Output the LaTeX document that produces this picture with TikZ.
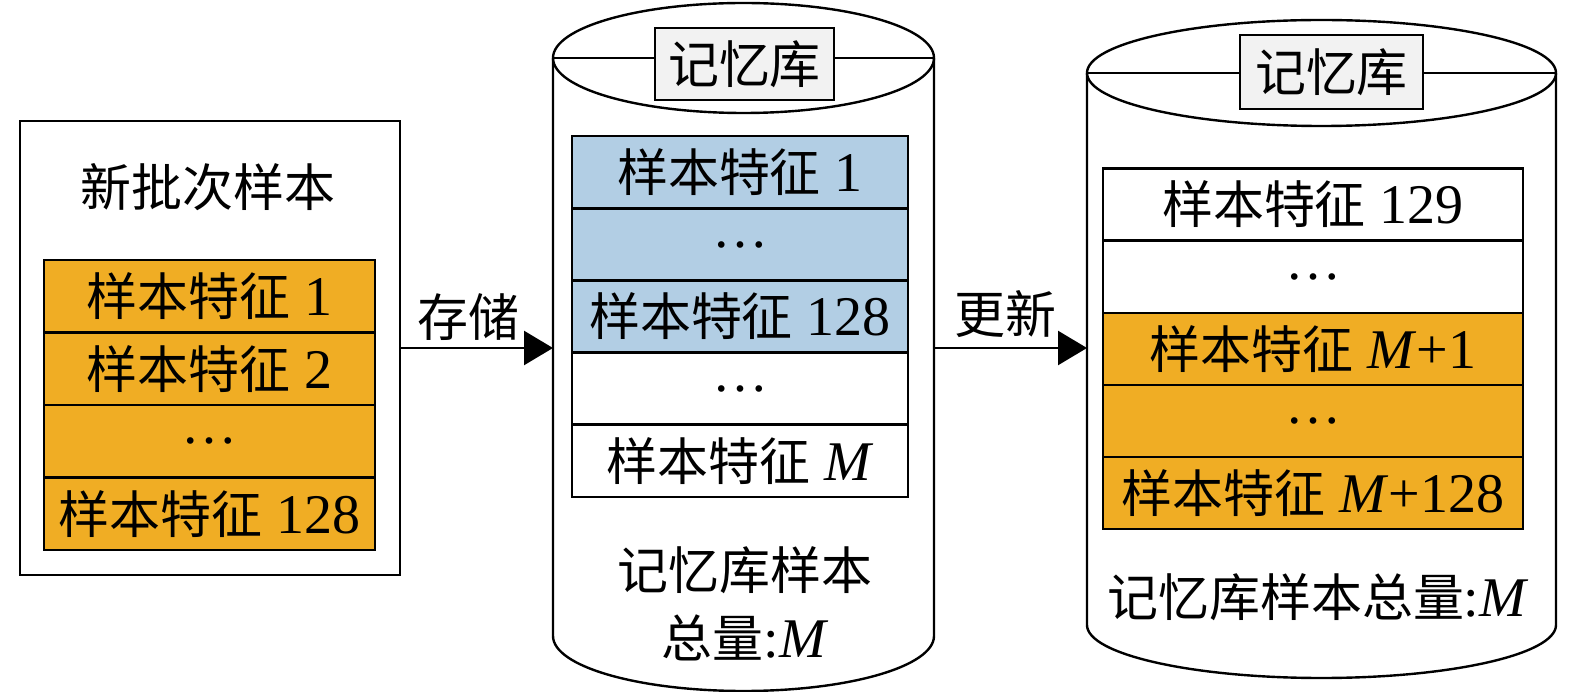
\documentclass[tikz,border=0pt]{standalone}
\usepackage{fontspec}
\setmainfont{Liberation Serif}
\newfontfamily\cnfont{Noto Sans CJK SC}[Scale=0.91]
\usetikzlibrary{arrows.meta}
\definecolor{orgc}{RGB}{240,173,36}
\definecolor{bluc}{RGB}{178,206,228}
\definecolor{lblc}{RGB}{242,242,242}
\begin{document}
\begin{tikzpicture}[x=1pt,y=1pt,line width=2.4pt,
  font=\fontsize{56}{64}\selectfont,
  box/.style={draw,line width=2.4pt,inner sep=0pt,anchor=center},
  lrow/.style={box,minimum width=331pt,minimum height=72.5pt},
  mrow/.style={box,minimum width=336pt,minimum height=72pt},
  rrow/.style={box,minimum width=420pt,minimum height=72pt},
  org/.style={fill=orgc},
  blu/.style={fill=bluc},
  wht/.style={fill=white},
  lbl/.style={box,fill=lblc},
  txt/.style={inner sep=0pt},
  cyl/.style={draw,line width=2.4pt,fill=white},
  arr/.style={line width=2.4pt,-{Triangle[length=29pt,width=34pt]}}]
\useasboundingbox (0,0) rectangle (1575,-692);

% left box
\node[box,minimum width=380pt,minimum height=454pt] (batch) at (210,-348) {};
\node[txt] (btitle) at (208,-187) {\cnfont 新批次样本};
\node[lrow,org] (l1) at (209.5,-296) {{\cnfont 样本特征} 1};
\node[lrow,org] (l2) at (209.5,-369) {{\cnfont 样本特征} 2};
\node[lrow,org] (l3) at (209.5,-441) {\ldots};
\node[lrow,org] (l4) at (209.5,-514) {{\cnfont 样本特征} 128};

% middle cylinder
\draw[cyl] (553,-58) -- (553,-636)
  arc[start angle=180,end angle=360,x radius=190.5pt,y radius=55pt]
  -- (934,-58)
  arc[start angle=0,end angle=180,x radius=190.5pt,y radius=55pt] -- cycle;
\draw (553,-58) arc[start angle=180,end angle=360,x radius=190.5pt,y radius=55pt];
\draw (553,-58) -- (934,-58);
\node[lbl,minimum width=179pt,minimum height=72pt] (mlbl) at (744.5,-64) {\cnfont 记忆库};
\node[mrow,blu] (m1) at (740,-172) {{\cnfont 样本特征} 1};
\node[mrow,blu] (m2) at (740,-244.5) {\ldots};
\node[mrow,blu] (m3) at (740,-316.5) {{\cnfont 样本特征} 128};
\node[mrow,wht] (m4) at (740,-388.5) {\ldots};
\node[mrow,wht] (m5) at (740,-461) {{\cnfont 样本特征} \textit{M}};
\node[txt] (mt1) at (745,-570) {\cnfont 记忆库样本};
\node[txt] (mt2) at (745,-638) {{\cnfont 总量}:\textit{M}};
\coordinate (mcl) at (553,-348);
\coordinate (mcr) at (934,-348);

% right cylinder
\draw[cyl] (1087,-73) -- (1087,-625)
  arc[start angle=180,end angle=360,x radius=234.5pt,y radius=53pt]
  -- (1556,-73)
  arc[start angle=0,end angle=180,x radius=234.5pt,y radius=53pt] -- cycle;
\draw (1087,-73) arc[start angle=180,end angle=360,x radius=234.5pt,y radius=53pt];
\draw (1087,-73) -- (1556,-73);
\node[lbl,minimum width=183pt,minimum height=74pt] (rlbl) at (1331.5,-72) {\cnfont 记忆库};
\node[rrow,wht] (r1) at (1313,-204.5) {{\cnfont 样本特征} 129};
\node[rrow,wht] (r2) at (1313,-277) {\ldots};
\node[rrow,org] (r3) at (1313,-349) {{\cnfont 样本特征} \textit{M}+1};
\node[rrow,org] (r4) at (1313,-421) {\ldots};
\node[rrow,org] (r5) at (1313,-493) {{\cnfont 样本特征} \textit{M}+128};
\node[txt] (rt) at (1318,-597) {{\cnfont 记忆库样本总量}:\textit{M}};
\coordinate (rcl) at (1087,-348);

% arrows
\draw[arr] (batch.east) -- (mcl);
\node[txt] (store) at (468,-317) {\cnfont 存储};
\draw[arr] (mcr) -- (rcl);
\node[txt] (upd) at (1005,-314) {\cnfont 更新};
\end{tikzpicture}
\end{document}
